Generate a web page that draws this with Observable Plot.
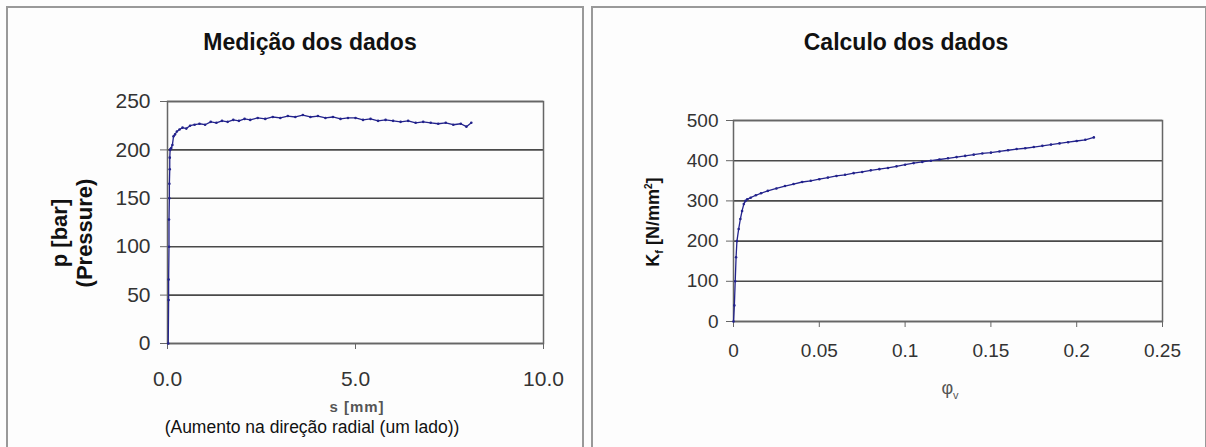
<!DOCTYPE html>
<html>
<head>
<meta charset="utf-8">
<script src="https://cdn.jsdelivr.net/npm/d3@7"></script>
<script src="https://cdn.jsdelivr.net/npm/@observablehq/plot@0.6"></script>
<style>
  html, body { margin: 0; padding: 0; background: #fff; }
  #root { position: relative; width: 1206px; height: 447px; overflow: hidden; font-family: "Liberation Sans", Arial, sans-serif; background: #fdfdfd; }
  .panel { position: absolute; border: 2px solid #999; border-bottom: none; background: #fdfdfd; box-sizing: border-box; }
  .abs { position: absolute; white-space: nowrap; color: #111; }
  .title { font-weight: bold; font-size: 23px; transform: translateX(-50%); }
  .ylab { font-weight: bold; font-size: 22px; transform: translate(-50%, -50%) rotate(-90deg); text-align: center; line-height: 25px; }
  .plotbox { position: absolute; top: 0; }
</style>
</head>
<body>
<div id="root">
  <div class="panel" style="left:6px; top:6px; width:578px; height:460px;"></div>
  <div class="panel" style="left:591px; top:6px; width:616px; height:460px;"></div>
  <div id="left" class="plotbox" style="left:0px;"></div>
  <div id="right" class="plotbox" style="left:600px;"></div>
  <div class="abs title" style="left:310px; top:29px;">Medição dos dados</div>
  <div class="abs title" style="left:906px; top:29px;">Calculo dos dados</div>
  <div class="abs ylab" style="left:72px; top:233px;">p [bar]<br>(Pressure)</div>
  <div class="abs ylab" style="left:654px; top:222px; font-size:18px;">K<sub style="font-size:11px">f</sub> [N/mm<sup style="font-size:10px">2</sup>]</div>
  <div class="abs" style="left:357px; top:398px; transform:translateX(-50%); font-weight:bold; font-size:15px; color:#555; letter-spacing:1px;">s [mm]</div>
  <div class="abs" style="left:312px; top:417px; transform:translateX(-50%); font-size:17.5px;">(Aumento na direção radial (um lado))</div>
  <div class="abs" style="left:950px; top:378px; transform:translateX(-50%); font-size:18px; color:#555;">φ<sub style="font-size:11px">v</sub></div>
</div>
<script>
// ---- Left chart data: p [bar] vs s [mm]
const sMm = [0.02,0.03,0.03,0.04,0.04,0.05,0.05,0.06,0.06,0.07,0.08,0.10,0.13,0.16,0.20,0.25,0.32,0.40,0.50,0.60,0.72,0.85,1.0,1.15,1.3,1.45,1.6,1.75,1.9,2.05,2.2,2.4,2.6,2.8,3.0,3.2,3.4,3.6,3.8,4.0,4.2,4.4,4.6,4.8,5.0,5.2,5.4,5.6,5.8,6.0,6.2,6.4,6.6,6.8,7.0,7.2,7.4,7.6,7.8,7.95,8.08];
const pBar = [0,45,66,100,128,150,165,180,192,200,201,202,205,214,216,219,221,223,222,225,226,227,226,229,228,230,229,231,230,232,231,233,232,234,233,235,234,236,234,235,233,234,232,233,233,231,232,230,231,230,229,230,228,229,228,227,228,226,227,224,228];
const pTicks = [0,50,100,150,200,250];
const sTicks = [0,5,10];

// ---- Right chart data: Kf [N/mm²] vs φv
const phiV = [0,0.0005,0.001,0.0015,0.002,0.003,0.004,0.005,0.006,0.007,0.008,0.010,0.013,0.016,0.020,0.025,0.030,0.035,0.040,0.045,0.050,0.055,0.060,0.065,0.070,0.075,0.080,0.085,0.090,0.095,0.100,0.105,0.110,0.115,0.120,0.125,0.130,0.135,0.140,0.145,0.150,0.155,0.160,0.165,0.170,0.175,0.180,0.185,0.190,0.195,0.200,0.205,0.210];
const kf = [0,40,100,160,200,230,255,275,292,300,304,308,314,319,325,331,337,342,347,350,354,358,362,365,369,372,376,379,382,386,390,394,397,400,403,406,409,412,415,418,420,423,426,429,431,434,437,440,443,446,449,452,458];
const kTicks = [0,100,200,300,400,500];
const phiTicks = [0,0.05,0.1,0.15,0.2,0.25];

const lineColor = "#23238c";
const gridColor = "#4a4a4a";

const left = Plot.plot({
  width: 600, height: 447,
  marginLeft: 167, marginRight: 57, marginTop: 101, marginBottom: 104,
  style: { fontFamily: "Liberation Sans, Arial, sans-serif", fontSize: "21px", color: "#333", background: "transparent" },
  x: { domain: [0, 10] },
  y: { domain: [0, 250] },
  marks: [
    Plot.ruleY(pTicks, { stroke: gridColor, strokeWidth: 1.6 }),
    Plot.frame({ stroke: "#666", strokeWidth: 1.5 }),
    Plot.axisY({ ticks: pTicks, tickSize: 7, tickPadding: 10, label: null, stroke: "#666" }),
    Plot.axisX({ ticks: sTicks, tickSize: 6, tickPadding: 22, tickFormat: d3.format(".1f"), label: null, stroke: "#666" }),
    Plot.line(sMm.map((s, i) => ({ s, p: pBar[i] })), { x: "s", y: "p", stroke: lineColor, strokeWidth: 1.3 }),
    Plot.dot(sMm.map((s, i) => ({ s, p: pBar[i] })), { x: "s", y: "p", r: 1.3, fill: lineColor, stroke: "none" })
  ]
});
document.getElementById("left").appendChild(left);

const right = Plot.plot({
  width: 606, height: 447,
  marginLeft: 133, marginRight: 44, marginTop: 120, marginBottom: 126,
  style: { fontFamily: "Liberation Sans, Arial, sans-serif", fontSize: "19px", color: "#333", background: "transparent" },
  x: { domain: [0, 0.25] },
  y: { domain: [0, 500] },
  marks: [
    Plot.ruleY(kTicks, { stroke: gridColor, strokeWidth: 1.6 }),
    Plot.frame({ stroke: "#666", strokeWidth: 1.5 }),
    Plot.axisY({ ticks: kTicks, tickSize: 7, tickPadding: 8, label: null, stroke: "#666" }),
    Plot.axisX({ ticks: phiTicks, tickSize: 6, tickPadding: 16, tickFormat: d => String(d), label: null, stroke: "#666" }),
    Plot.line(phiV.map((x, i) => ({ x, k: kf[i] })), { x: "x", y: "k", stroke: lineColor, strokeWidth: 1.3 }),
    Plot.dot(phiV.map((x, i) => ({ x, k: kf[i] })), { x: "x", y: "k", r: 1.3, fill: lineColor, stroke: "none" })
  ]
});
document.getElementById("right").appendChild(right);
</script>
</body>
</html>
